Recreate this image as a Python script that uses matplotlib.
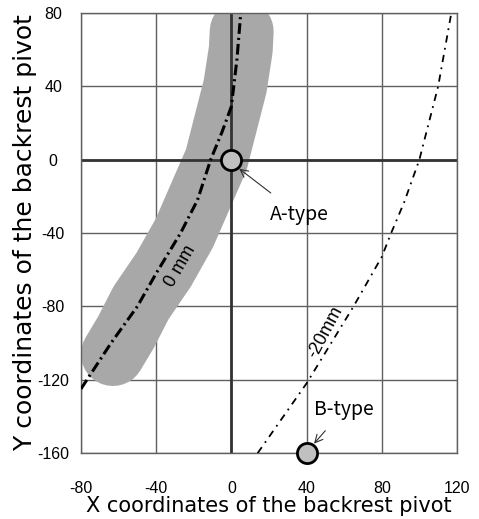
import numpy as np
import matplotlib
matplotlib.use('Agg')
import matplotlib.pyplot as plt

plt.rcParams['font.family'] = ['Liberation Sans', 'DejaVu Sans']
plt.rcParams['axes.unicode_minus'] = False

# 0 mm curve (dash-dot)
x_0mm = [-80, -64, -50, -40, -27, -18, -11, -5, 0, 3, 5]
y_0mm = [-125, -100, -80, -62, -40, -22, 0, 15, 29, 55, 80]

# gray band around the 0 mm curve (centre line)
x_band = [-63, -56, -48, -36, -25, -16.5, -8, -3, 2, 5, 5.5]
y_band = [-106, -94, -78, -60, -40, -20, 0, 20, 40, 60, 70]

# -20 mm curve
x_20mm = [14, 40, 65, 80, 85, 92, 100, 110, 117]
y_20mm = [-160, -122, -80, -53, -40, -23, 0, 40, 80]

# seat types
x_types = [0, 40]
y_types = [0, -160]
type_names = ['A-type', 'B-type']

xticks = [-80, -40, 0, 40, 80, 120]
yticks = [-160, -120, -80, -40, 0, 40, 80]

fig = plt.figure(figsize=(4.79, 5.19), dpi=100)
ax = fig.add_axes([0.169, 0.127, 0.785, 0.848])

ax.plot(x_band, y_band, color='#a8a8a8', linewidth=46, solid_capstyle='round',
        solid_joinstyle='round', zorder=1)

ax.plot(x_0mm, y_0mm, color='black', linewidth=2.2,
        linestyle=(0, (3.5, 1.3, 0.7, 1.3)), zorder=3)
ax.plot(x_20mm, y_20mm, color='black', linewidth=1.3,
        linestyle=(0, (4, 3, 1, 3)), zorder=3)

ax.axhline(0, color='#333333', linewidth=2.0, zorder=2)
ax.axvline(0, color='#333333', linewidth=2.0, zorder=2)

ax.plot(x_types, y_types, linestyle='none', marker='o', markersize=14.5,
        markerfacecolor='#c0c0c0', markeredgecolor='black', markeredgewidth=2,
        clip_on=False, zorder=5)

ann_font = ['Noto Sans CJK KR', 'DejaVu Sans']
ax.annotate(type_names[0], xy=(x_types[0] + 3, y_types[0] - 4), xytext=(36, -30),
            fontsize=14, family=ann_font, ha='center', va='center',
            arrowprops=dict(arrowstyle='->', color='#303030', lw=0.8,
                            shrinkA=10, shrinkB=2), zorder=6)
ax.annotate(type_names[1], xy=(x_types[1] + 3, y_types[1] + 4), xytext=(60, -136),
            fontsize=14, family=ann_font, ha='center', va='center',
            arrowprops=dict(arrowstyle='->', color='#303030', lw=0.8,
                            shrinkA=8, shrinkB=2), zorder=6)

ax.text(-27, -58, '0 mm', rotation=60, fontsize=13, ha='center', va='center', zorder=4)
ax.text(50, -94, '-20mm', rotation=62, fontsize=13, ha='center', va='center', zorder=4)

ax.set_xlim(-80, 120)
ax.set_ylim(-160, 80)
ax.set_xticks(xticks)
ax.set_yticks(yticks)
ax.grid(True, color='#606060', linewidth=1.0)
ax.set_axisbelow(True)
for s in ax.spines.values():
    s.set_color('#606060')
    s.set_linewidth(1.0)
ax.tick_params(length=0, labelsize=11.5, pad=20)
for lab in ax.get_yticklabels():
    lab.set_horizontalalignment('center')

lab_font = ['DejaVu Sans']
ax.set_xlabel('X coordinates of the backrest pivot', fontsize=15, family=lab_font,
              labelpad=0)
ax.set_ylabel('Y coordinates of the backrest pivot', fontsize=18, family=lab_font,
              labelpad=0)

fig.savefig('out.png', dpi=100)
